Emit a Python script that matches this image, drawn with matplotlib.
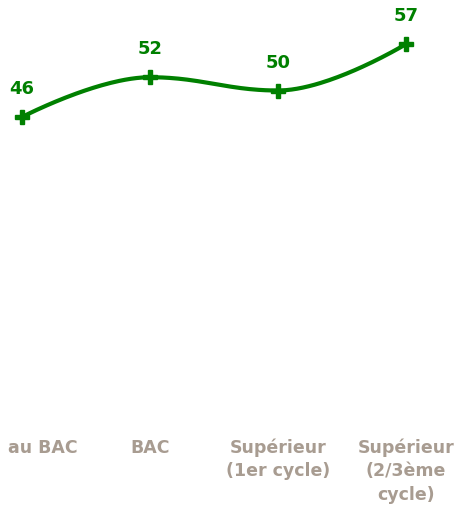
import numpy as np
import matplotlib.pyplot as plt
import matplotlib.transforms as mtransforms

categories = ["au BAC", "BAC", "Supérieur\n(1er cycle)", "Supérieur\n(2/3ème\ncycle)"]
values = [46, 52, 50, 57]

line_color = "#008000"
label_color = "#a89c91"


def spline_path(xs, ys, smoothing=1.5, steps=60):
    # cubic bezier segments with flattened control points at local extremes
    n = len(xs)
    denom = smoothing + 1
    left_c = [(x, y) for x, y in zip(xs, ys)]
    right_c = [(x, y) for x, y in zip(xs, ys)]
    for i in range(1, n - 1):
        px, py = xs[i], ys[i]
        lx, ly = xs[i - 1], ys[i - 1]
        nx, ny = xs[i + 1], ys[i + 1]
        lcx = (smoothing * px + lx) / denom
        lcy = (smoothing * py + ly) / denom
        rcx = (smoothing * px + nx) / denom
        rcy = (smoothing * py + ny) / denom
        corr = (rcy - lcy) * (rcx - px) / (rcx - lcx) + py - rcy
        lcy += corr
        rcy += corr
        if lcy > ly and lcy > py:
            lcy = max(ly, py)
            rcy = 2 * py - lcy
        elif lcy < ly and lcy < py:
            lcy = min(ly, py)
            rcy = 2 * py - lcy
        if rcy > ny and rcy > py:
            rcy = max(ny, py)
            lcy = 2 * py - rcy
        elif rcy < ny and rcy < py:
            rcy = min(ny, py)
            lcy = 2 * py - rcy
        left_c[i] = (lcx, lcy)
        right_c[i] = (rcx, rcy)
    t = np.linspace(0, 1, steps)[:, None]
    out = []
    for i in range(n - 1):
        p0 = np.array([xs[i], ys[i]])
        p1 = np.array(right_c[i])
        p2 = np.array(left_c[i + 1])
        p3 = np.array([xs[i + 1], ys[i + 1]])
        seg = ((1 - t) ** 3) * p0 + 3 * ((1 - t) ** 2) * t * p1 + 3 * (1 - t) * t ** 2 * p2 + t ** 3 * p3
        out.append(seg if i == 0 else seg[1:])
    pts = np.vstack(out)
    return pts[:, 0], pts[:, 1]


fig = plt.figure(figsize=(4.61, 5.09), dpi=100)
ax = fig.add_axes([0, 87 / 509, 1, 422 / 509])

x = np.arange(len(values))
sx, sy = spline_path(x, values)
ax.plot(sx, sy, color=line_color, lw=3, solid_capstyle="round", zorder=2)
ax.plot(x, values, ls="none", marker="P", ms=10, color=line_color, mec=line_color, zorder=3)

for i, v in enumerate(values):
    ax.annotate(str(v), (i, v), xytext=(0, 16.5), textcoords="offset points",
                ha="center", va="baseline", fontsize=13, fontweight="bold", color=line_color)

ax.set_xlim(-22 / 128, 439 / 128)
ax.set_ylim(0, 422 / 6.63)

ax.set_xticks(x)
ax.set_xticklabels(categories, fontsize=12.5, fontweight="bold", color=label_color,
                   linespacing=1.37, va="top")
ax.tick_params(axis="x", length=0, pad=12)
ax.set_yticks([])

# first label is pushed right so it stays inside the figure
first = ax.get_xticklabels()[0]
first.set_horizontalalignment("left")
first.set_transform(first.get_transform() + mtransforms.ScaledTranslation(-14 / 100, 0, fig.dpi_scale_trans))

for s in ["top", "right", "bottom", "left"]:
    ax.spines[s].set_visible(False)

fig.savefig("out.png", dpi=100)
